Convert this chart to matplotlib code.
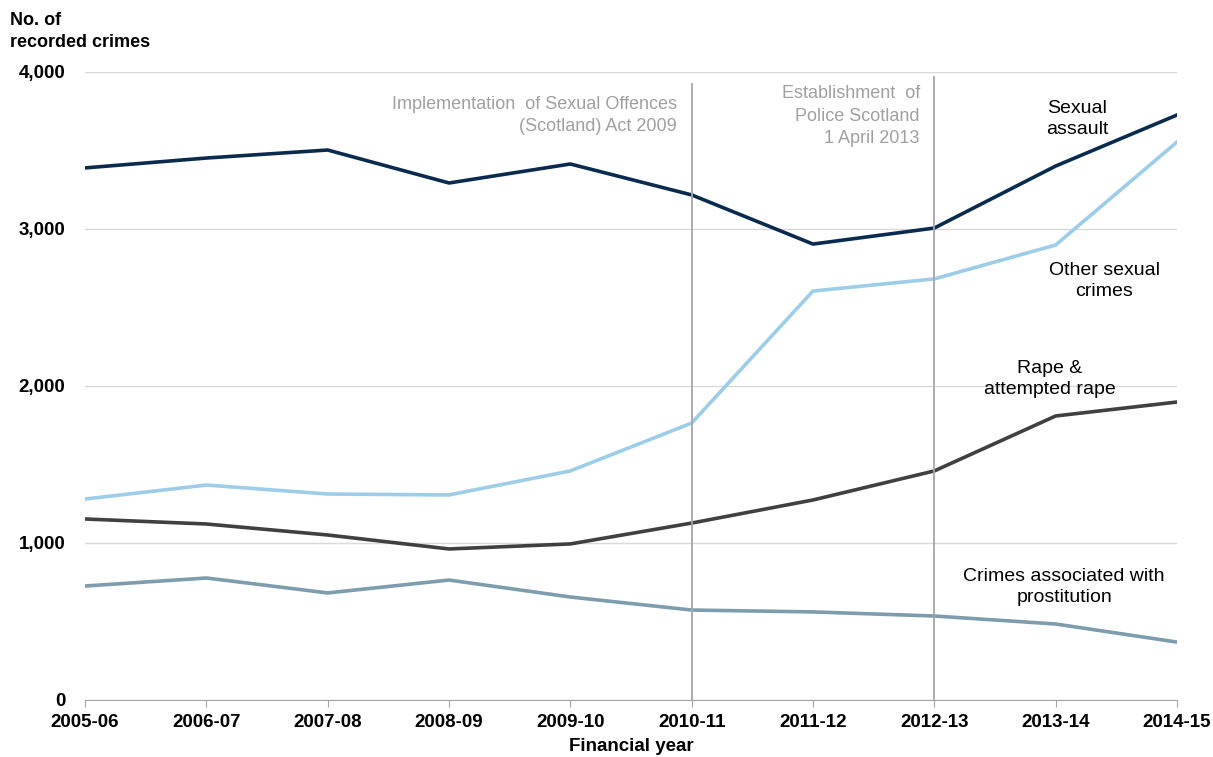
import matplotlib
matplotlib.use('Agg')
import matplotlib.pyplot as plt
from matplotlib import font_manager
import numpy as np

plt.rcParams['font.family'] = ['Liberation Sans', 'DejaVu Sans']

years = ['2005-06', '2006-07', '2007-08', '2008-09', '2009-10',
         '2010-11', '2011-12', '2012-13', '2013-14', '2014-15']
sexual_assault = [3389, 3452, 3503, 3293, 3414, 3217, 2904, 3006, 3401, 3726]
other_sexual = [1280, 1369, 1312, 1306, 1459, 1764, 2605, 2682, 2898, 3554]
rape = [1153, 1121, 1051, 962, 994, 1127, 1274, 1459, 1809, 1898]
prostitution = [726, 777, 682, 764, 656, 573, 561, 535, 484, 369]

names = [f.name for f in font_manager.fontManager.ttflist]
narrow = 'Liberation Sans Narrow' if 'Liberation Sans Narrow' in names else 'Liberation Sans'

x = np.arange(len(years))

fig = plt.figure(figsize=(12.13, 7.57), dpi=100)
ax = fig.add_axes([0.0701, 0.0753, 0.9002, 0.8296])

ax.plot(x, sexual_assault, color='#0b2b4e', lw=2.6)
ax.plot(x, other_sexual, color='#9dcde8', lw=2.6)
ax.plot(x, rape, color='#404040', lw=2.6)
ax.plot(x, prostitution, color='#7d9cad', lw=2.6)

# policy markers
ax.plot([5, 5], [0, 3924], color='#a6a6a6', lw=1.3)
ax.plot([7, 7], [0, 3968], color='#a6a6a6', lw=1.3)
ax.text(4.88, 3850, 'Implementation  of Sexual Offences\n(Scotland) Act 2009',
        ha='right', va='top', color='#a0a0a0', fontsize=13, linespacing=1.4)
ax.text(6.88, 3915, 'Establishment  of\nPolice Scotland\n1 April 2013',
        ha='right', va='top', color='#a0a0a0', fontsize=13, linespacing=1.4)

# series labels
ax.text(8.18, 3700, 'Sexual\nassault', ha='center', va='center', fontsize=14, linespacing=1.3)
ax.text(8.4, 2670, 'Other sexual\ncrimes', ha='center', va='center', fontsize=14, linespacing=1.3)
ax.text(7.95, 2045, 'Rape &\nattempted rape', ha='center', va='center', fontsize=14, linespacing=1.3)
ax.text(8.07, 718, 'Crimes associated with\nprostitution', ha='center', va='center', fontsize=14, linespacing=1.3)

ax.set_xlim(0, 9)
ax.set_ylim(0, 4000)
ax.set_yticks([0, 1000, 2000, 3000, 4000])
ax.set_yticklabels(['0', '1,000', '2,000', '3,000', '4,000'], fontweight='bold', fontsize=13.5)
ax.set_xticks(x)
ax.set_xticklabels(years, fontweight='bold', fontsize=13.5, family=[narrow, 'DejaVu Sans'])
ax.grid(axis='y', color='#d9d9d9', lw=1)
ax.set_axisbelow(True)
for s in ['top', 'right', 'left']:
    ax.spines[s].set_visible(False)
ax.spines['bottom'].set_color('#a6a6a6')
ax.tick_params(axis='y', length=0, pad=14)
ax.tick_params(axis='x', length=5, color='#a6a6a6', pad=5)
ax.set_xlabel('Financial year', fontweight='bold', fontsize=13.5, labelpad=5,
              family=[narrow, 'DejaVu Sans'])
fig.text(0.008, 0.932, 'No. of\nrecorded crimes', fontweight='bold', fontsize=13,
         va='bottom', ha='left', linespacing=1.4)

fig.savefig('out.png', dpi=100)
